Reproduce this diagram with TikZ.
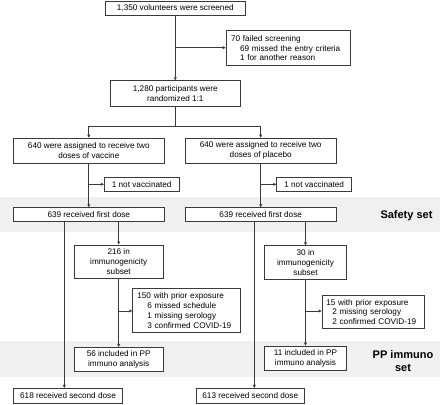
\documentclass[tikz,border=0pt]{standalone}
\usepackage{fontspec}
\setmainfont{Liberation Sans}
\usetikzlibrary{arrows.meta,calc}
\definecolor{band}{HTML}{F0F0F0}
\definecolor{ln}{HTML}{3A3A3A}
\begin{document}
\begin{tikzpicture}[x=1pt,y=-1pt,
  box/.style={draw=ln,line width=0.7pt,rectangle,inner sep=0pt,align=center,font=\fontsize{8.2}{9.8}\selectfont,fill=white},
  arr/.style={draw=ln,line width=0.7pt,-{Triangle[length=3pt,width=2.8pt]}},
  ln/.style={draw=ln,line width=0.7pt},
  setlab/.style={font=\fontsize{11}{13}\selectfont\bfseries,align=center}]
\useasboundingbox (0,0) rectangle (440,405);
\fill[band] (0,196.7) rectangle (440,232.3);
\fill[band] (0,341) rectangle (440,376.7);
\node[setlab] (ss) at (406.5,215.7) {Safety set};
\node[setlab] (ps) at (403,361.5) {PP immuno\\set};

\node[box,minimum width=140.7pt,minimum height=14.3pt] (b1) at (175.3,8.2) {1,350 volunteers were screened};
\node[box,minimum width=124.3pt,minimum height=35pt,align=left,anchor=west,inner xsep=5pt,text width=114.3pt] (fail) at (225.7,48.2) {70 failed screening\\\hspace*{9pt}69 missed the entry criteria\\\hspace*{9pt}1 for another reason};
\node[box,minimum width=130.7pt,minimum height=25.3pt] (rand) at (175.3,93.3) {1,280 participants were\\randomized 1:1};
\node[box,minimum width=151pt,minimum height=25.3pt] (vac) at (88.8,150.7) {640 were assigned to receive two\\doses of vaccine};
\node[box,minimum width=150.7pt,minimum height=25.3pt] (pla) at (260.7,150.7) {640 were assigned to receive two\\doses of placebo};
\node[box,minimum width=74.7pt,minimum height=14pt] (nv1) at (141.7,184.3) {1 not vaccinated};
\node[box,minimum width=75pt,minimum height=14pt] (nv2) at (314.2,184.3) {1 not vaccinated};
\node[box,minimum width=151pt,minimum height=13.6pt] (fd1) at (88.8,214.5) {639 received first dose};
\node[box,minimum width=150.7pt,minimum height=13.6pt] (fd2) at (260.7,214.5) {639 received first dose};
\node[box,minimum width=89.3pt,minimum height=33.7pt] (im1) at (118.7,261.8) {216 in\\immunogenicity\\subset};
\node[box,minimum width=82.4pt,minimum height=33.3pt] (im2) at (305.5,262.3) {30 in\\immunogenicity\\subset};
\node[box,minimum width=107.7pt,minimum height=44.4pt,align=left,anchor=west,inner xsep=4.7pt,text width=98.3pt] (ex1) at (132.3,310.5) {150 with prior exposure\\\hspace*{10pt}6 missed schedule\\\hspace*{10pt}1 missing serology\\\hspace*{10pt}3 confirmed COVID-19};
\node[box,minimum width=102.3pt,minimum height=32.6pt,align=left,anchor=west,inner xsep=4.3pt,text width=93.7pt] (ex2) at (321.7,312) {15 with prior exposure\\\hspace*{6pt}2 missing serology\\\hspace*{6pt}2 confirmed COVID-19};
\node[box,minimum width=89.3pt,minimum height=24pt] (pp1) at (118.7,359.3) {56 included in PP\\immuno analysis};
\node[box,minimum width=82.4pt,minimum height=24.7pt] (pp2) at (305.5,358.3) {11 included in PP\\immuno analysis};
\node[box,minimum width=109.4pt,minimum height=15pt] (sd1) at (68,395.8) {618 received second dose};
\node[box,minimum width=107.3pt,minimum height=15pt] (sd2) at (250.3,395.8) {613 received second dose};

\coordinate (j1) at (175.3,47.7);
\coordinate (sp) at (175.3,126.3);
\coordinate (j2) at (89,184.3);
\coordinate (j3) at (260.7,184.3);
\coordinate (l1) at (64.3,0);
\coordinate (l2) at (254.3,0);
\coordinate (j4) at (118.7,311);
\coordinate (j5) at (305.5,311);

\draw[arr] (b1.south) -- (rand.north);
\draw[arr] (j1) -- (fail.west |- j1);
\draw[ln] (rand.south) -- (sp);
\draw[arr] (sp) -| (vac.north);
\draw[arr] (sp) -| (pla.north);
\draw[arr] (vac.south) -- (fd1.north);
\draw[arr] (pla.south) -- (fd2.north);
\draw[arr] (j2) -- (nv1.west);
\draw[arr] (j3) -- (nv2.west);
\draw[arr] (fd1.south -| l1) -- (sd1.north -| l1);
\draw[arr] (fd2.south -| l2) -- (sd2.north -| l2);
\draw[arr] (fd1.south -| im1) -- (im1.north);
\draw[arr] (fd2.south -| im2) -- (im2.north);
\draw[arr] (im1.south) -- (pp1.north);
\draw[arr] (im2.south) -- (pp2.north);
\draw[arr] (j4) -- (ex1.west |- j4);
\draw[arr] (j5) -- (ex2.west |- j5);
\end{tikzpicture}
\end{document}
